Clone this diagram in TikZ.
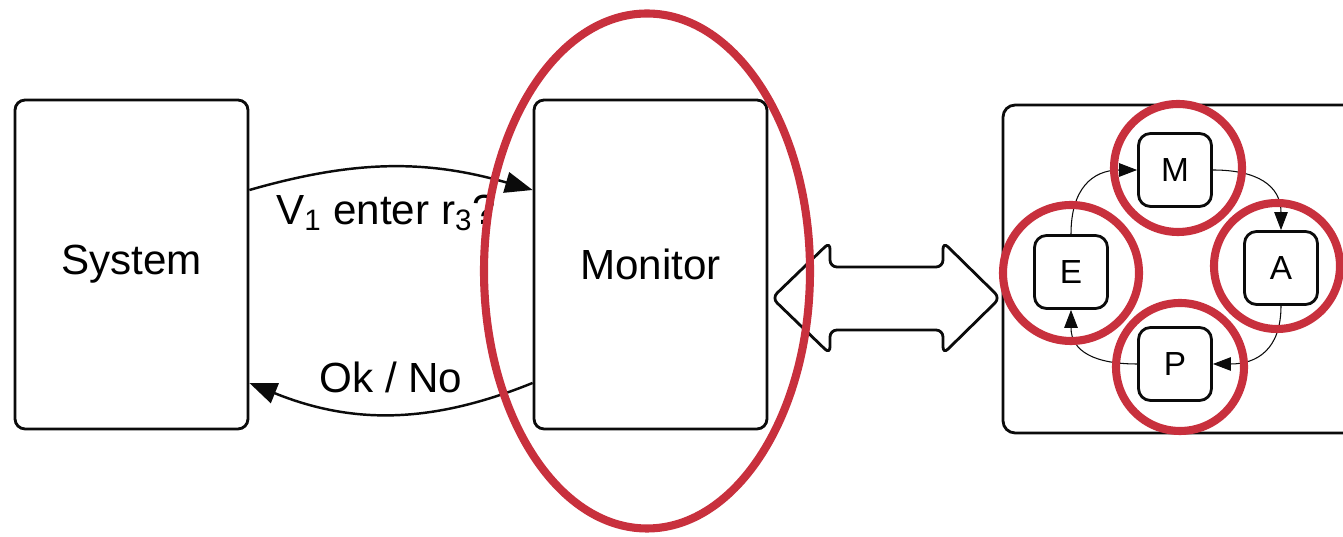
\documentclass[tikz,border=0pt]{standalone}
\usepackage{fontspec}
\setmainfont{Liberation Sans}
\usepackage{tikz}
\usetikzlibrary{arrows.meta,positioning,calc}
\definecolor{ring1}{HTML}{C8303D}
\definecolor{ink}{HTML}{0B0B0B}

\begin{document}
\begin{tikzpicture}[x=0.02cm,y=0.02cm,
    block/.style={draw=ink,line width=1.6pt,rounded corners=0.2cm,fill=white,
                  minimum width=4.66cm,minimum height=6.58cm,font=\fontsize{24}{28}\selectfont},
    phase/.style={draw=ink,line width=1.6pt,rounded corners=0.24cm,fill=white,
                  minimum width=1.46cm,minimum height=1.46cm,font=\fontsize{19}{22}\selectfont},
    ring/.style={ring1,line width=4.6pt},
    msg/.style={ink,line width=1.4pt,-{Triangle[length=0.55cm,width=0.42cm]}},
    loop/.style={ink,line width=0.6pt,looseness=1.25,-{Triangle[length=0.36cm,width=0.27cm]}}]
  \useasboundingbox (0,0) rectangle (1343,537);
  \clip (0,0) rectangle (1343,537);

  % system and monitor
  \node[block] (sys) at (131.5,272.5) {System};
  \node[block] (mon) at (650.5,272.5) {Monitor};
  \draw[msg] ([yshift=1.49cm]sys.east) to[bend left=16] ([yshift=1.49cm]mon.west);
  \draw[msg] ([yshift=-2.37cm]mon.west) to[bend left=22] ([yshift=-2.37cm]sys.east);
  \node[font=\fontsize{24}{28}\selectfont] (ask) at (386,324) {V\textsubscript{1} enter r\textsubscript{3}?};
  \node[font=\fontsize{24}{28}\selectfont] (ans) at (391,160) {Ok / No};

  % two-way block arrow
  \draw[ink,line width=1.6pt,fill=white,rounded corners=0.14cm]
    (772,239) -- (830,295) -- (830,270) -- (943,270) -- (943,295) -- (1000,239)
    -- (943,183) -- (943,207) -- (830,207) -- (830,183) -- cycle;

  % MAPE loop
  \node[block,minimum width=7.94cm,minimum height=6.56cm,rounded corners=0.24cm] (mape) at (1201.5,268) {};
  \node[phase] (m) at (1175,367) {M};
  \node[phase] (e) at (1071,265) {E};
  \node[phase] (a) at (1281,269) {A};
  \node[phase] (p) at (1175,173) {P};
  \draw[loop] (e.north) to[out=90,in=180] (m.west);
  \draw[loop] (m.east) to[out=0,in=90] (a.north);
  \draw[loop] (a.south) to[out=-90,in=0] (p.east);
  \draw[loop] (p.west) to[out=180,in=-90] (e.south);

  % highlights
  \draw[ring] (647,266) ellipse[x radius=163,y radius=257.5];
  \draw[ring] (1178,369) circle[radius=64];
  \draw[ring] (1071,264) circle[radius=68];
  \draw[ring] (1277,271) circle[radius=63];
  \draw[ring] (1180,170) circle[radius=64];
\end{tikzpicture}
\end{document}
